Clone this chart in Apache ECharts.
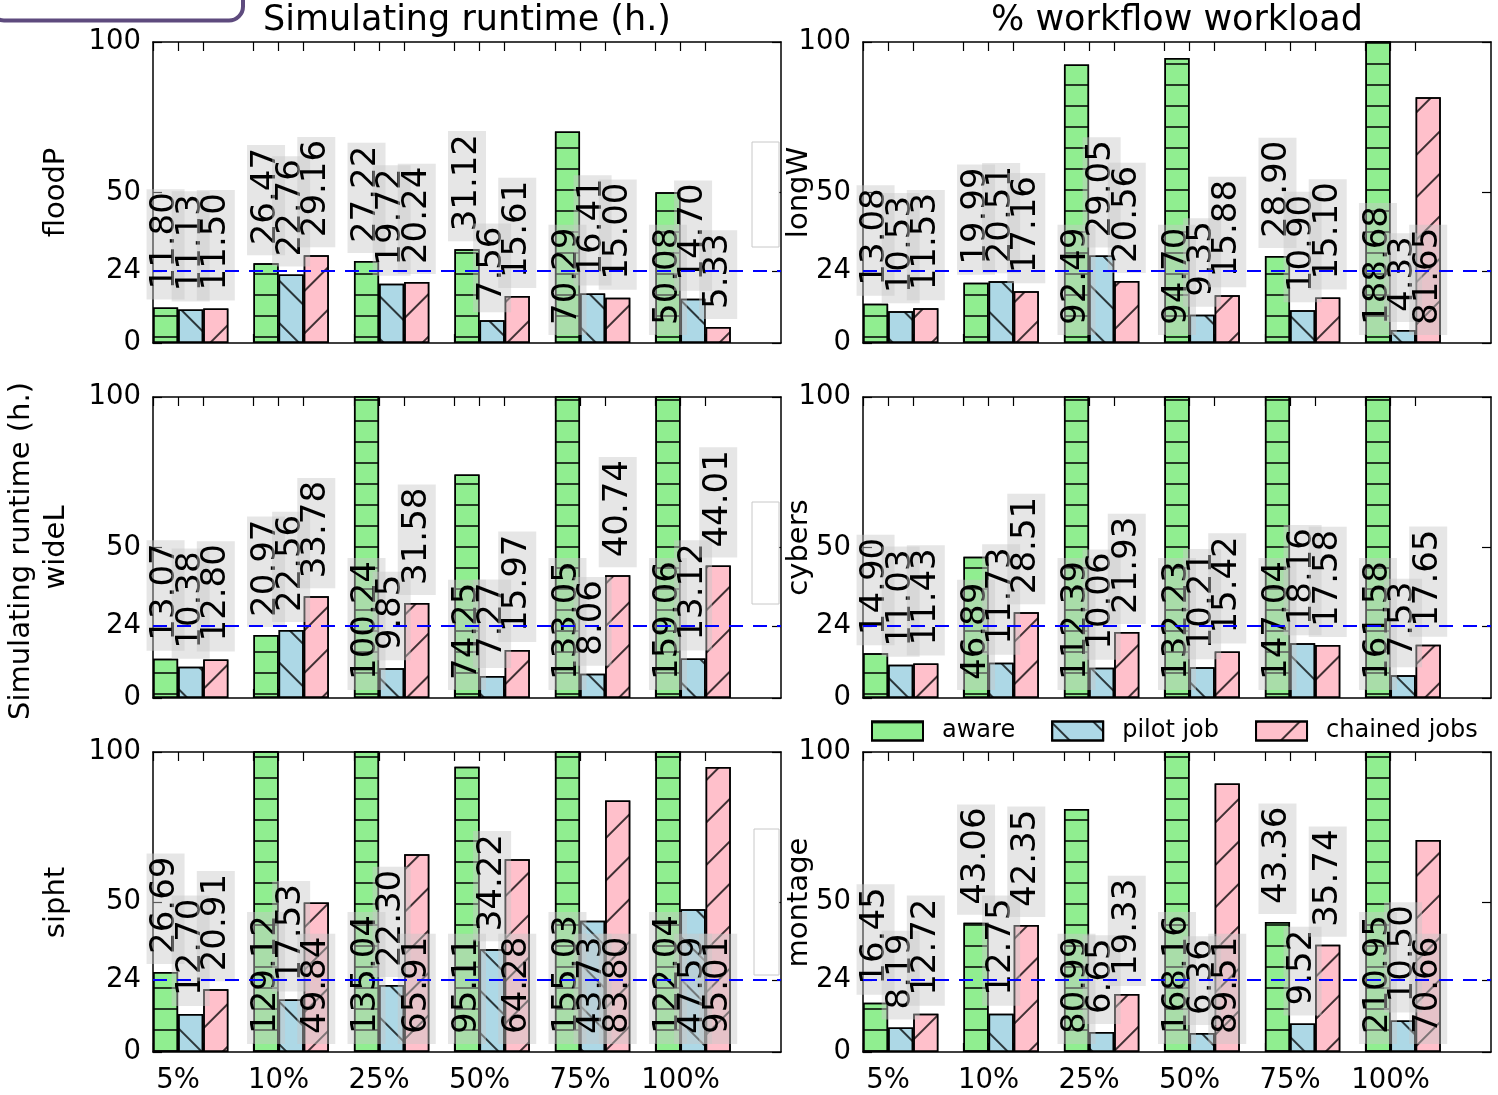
<!DOCTYPE html>
<html>
<head>
<meta charset="utf-8">
<title>Simulating runtime</title>
<script src="https://cdn.jsdelivr.net/npm/echarts@6/dist/echarts.min.js"></script>
<style>
  html, body { margin: 0; padding: 0; background: #fff; }
  #chart { width: 1498px; height: 1095px; }
</style>
</head>
<body>
<div id="chart"></div>
<script>
// workload levels on the x axis
var categories = ['5%', '10%', '25%', '50%', '75%', '100%'];
var seriesNames = ['aware', 'pilot job', 'chained jobs'];
var yTicks = [0, 24, 50, 100];
var deadline = 24;

// panels, row by row (left column, right column)
var panelNames = ['floodP', 'longW', 'wideL', 'cybers', 'sipht', 'montage'];

var floodP_aware   = [11.80, 26.47, 27.22, 31.12, 70.29, 50.08];
var floodP_pilot   = [11.13, 22.76, 19.72, 7.56, 16.41, 14.70];
var floodP_chained = [11.50, 29.16, 20.24, 15.61, 15.00, 5.33];

var longW_aware   = [13.08, 19.99, 92.49, 94.70, 28.90, 188.68];
var longW_pilot   = [10.53, 20.51, 29.05, 9.35, 10.90, 4.33];
var longW_chained = [11.53, 17.16, 20.56, 15.88, 15.10, 81.65];

var wideL_aware   = [13.07, 20.97, 100.24, 74.25, 133.05, 159.06];
var wideL_pilot   = [10.38, 22.56, 9.85, 7.27, 8.06, 13.12];
var wideL_chained = [12.80, 33.78, 31.58, 15.97, 40.74, 44.01];

var cybers_aware   = [14.90, 46.89, 112.39, 132.23, 147.04, 161.58];
var cybers_pilot   = [11.03, 11.73, 10.06, 10.21, 18.16, 7.53];
var cybers_chained = [11.43, 28.51, 21.93, 15.42, 17.58, 17.65];

var sipht_aware   = [26.69, 129.12, 135.04, 95.11, 155.03, 122.04];
var sipht_pilot   = [12.70, 17.53, 22.30, 34.22, 43.73, 47.59];
var sipht_chained = [20.91, 49.84, 65.91, 64.28, 83.80, 95.01];

var montage_aware   = [16.45, 43.06, 80.99, 168.16, 43.36, 210.95];
var montage_pilot   = [8.19, 12.75, 6.65, 6.36, 9.52, 10.50];
var montage_chained = [12.72, 42.35, 19.33, 89.51, 35.74, 70.66];

var panelData = [
  [floodP_aware, floodP_pilot, floodP_chained],
  [longW_aware, longW_pilot, longW_chained],
  [wideL_aware, wideL_pilot, wideL_chained],
  [cybers_aware, cybers_pilot, cybers_chained],
  [sipht_aware, sipht_pilot, sipht_chained],
  [montage_aware, montage_pilot, montage_chained]
];

var FONT = 'DejaVu Sans';
var gridLeft = [153, 863];
var gridTop = [42, 397, 752];
var gridW = 628, gridH = 301;
var xMax = 6.25;              // axis runs a bit past the last group
var barUnit = 0.25;           // bar width in x units
var barPx = gridW / xMax * barUnit;

var colors = ['#90EE90', '#ADD8E6', '#FFC0CB'];
var hatch = 'rgba(0,0,0,0.75)';
var decals = [
  { symbol: 'rect', symbolSize: 1, dashArrayX: [1, 0], dashArrayY: [2, 19], rotation: 0, color: hatch },
  { symbol: 'rect', symbolSize: 1, dashArrayX: [1, 0], dashArrayY: [2, 28], rotation: Math.PI / 4, color: hatch },
  { symbol: 'rect', symbolSize: 1, dashArrayX: [1, 0], dashArrayY: [2, 28], rotation: -Math.PI / 4, color: hatch }
];

var xTickValues = [];
var xLabelValues = [];
categories.forEach(function (c, i) {
  xTickValues.push(i, i + barUnit, i + 2 * barUnit);
  xLabelValues.push(i + barUnit);
});

var grids = [], xAxes = [], yAxes = [], series = [];

panelNames.forEach(function (name, p) {
  var row = Math.floor(p / 2), col = p % 2;
  grids.push({ left: gridLeft[col], top: gridTop[row], width: gridW, height: gridH });

  ['bottom', 'top'].forEach(function (pos) {
    xAxes.push({
      type: 'value', gridIndex: p, position: pos, min: 0, max: xMax,
      axisLine: { show: true, onZero: false, lineStyle: { color: '#000', width: 1.5 } },
      axisTick: { show: true, inside: true, length: 9, customValues: xTickValues, lineStyle: { color: '#000', width: 1.2 } },
      axisLabel: {
        show: pos === 'bottom' && row === 2, customValues: xLabelValues, margin: 15,
        fontSize: 27.5, fontFamily: FONT, color: '#000',
        formatter: function (v) { return categories[Math.round(v - barUnit)]; }
      },
      splitLine: { show: false }
    });
  });
  ['left', 'right'].forEach(function (pos) {
    yAxes.push({
      type: 'value', gridIndex: p, position: pos, min: 0, max: 100,
      axisLine: { show: true, onZero: false, lineStyle: { color: '#000', width: 1.5 } },
      axisTick: { show: true, inside: true, length: 9, customValues: yTicks, lineStyle: { color: '#000', width: 1.2 } },
      axisLabel: { show: pos === 'left', customValues: yTicks, margin: 12, fontSize: 27.5, fontFamily: FONT, color: '#000' },
      splitLine: { show: false }
    });
  });

  // tall bars carry their value label near the base instead of on top
  var panelMax = Math.max.apply(null, [].concat.apply([], panelData[p]));
  var baseLabelFrom = Math.max(0.28 * panelMax, 40);

  panelData[p].forEach(function (vals, k) {
    var s = {
      type: 'bar', name: seriesNames[k],
      xAxisIndex: 2 * p, yAxisIndex: 2 * p,
      barWidth: barPx, barGap: '0%',
      itemStyle: { color: colors[k], borderColor: '#000', borderWidth: 1.5, decal: decals[k] },
      label: {
        show: true, rotate: 90, align: 'left', verticalAlign: 'middle', distance: 8,
        fontSize: 34, fontFamily: FONT, color: '#000', lineHeight: 30,
        backgroundColor: 'rgba(200,200,200,0.45)', padding: [0, 3, 8, 10],
        formatter: function (prm) { return prm.value[1].toFixed(2); }
      },
      emphasis: { disabled: true },
      data: vals.map(function (v, i) {
        return { value: [i + 1.5 * barUnit, v], label: { position: v > baseLabelFrom ? 'insideBottom' : 'top' } };
      })
    };
    if (k === 0) {
      s.markLine = {
        silent: true, symbol: 'none', label: { show: false },
        lineStyle: { color: '#0000ff', type: [14, 10], width: 1.8 },
        data: [{ yAxis: deadline }]
      };
    }
    series.push(s);
  });
});

function vtext(txt, x, y, size) {
  return {
    type: 'text', x: x, y: y, rotation: Math.PI / 2, z: 10,
    style: { text: txt, fontSize: size, fontFamily: FONT, fill: '#000', align: 'center', verticalAlign: 'middle' }
  };
}
function htext(txt, x, y, size) {
  return {
    type: 'text', x: x, y: y, z: 10,
    style: { text: txt, fontSize: size, fontFamily: FONT, fill: '#000', align: 'center', verticalAlign: 'middle' }
  };
}

var graphics = [
  // corner of a framed box at the top-left
  { type: 'rect', shape: { x: -10, y: -40, width: 253, height: 60.5, r: 14 }, style: { fill: 'none', stroke: '#5e4b7e', lineWidth: 4 }, z: 20 },
  htext('Simulating runtime (h.)', 467, 21, 35),
  htext('% workflow workload', 1177, 21, 35),
  vtext('Simulating runtime (h.)', 21, 551, 29),
  // stray white boxes next to the right-hand panel names
  { type: 'rect', shape: { x: 752, y: 142, width: 27, height: 105 }, style: { fill: '#fff', stroke: '#c8c8c8', lineWidth: 1 }, z: 5 },
  { type: 'rect', shape: { x: 752, y: 502, width: 27, height: 102 }, style: { fill: '#fff', stroke: '#c8c8c8', lineWidth: 1 }, z: 5 },
  { type: 'rect', shape: { x: 754, y: 829, width: 25, height: 146 }, style: { fill: '#fff', stroke: '#c8c8c8', lineWidth: 1 }, z: 5 }
];
panelNames.forEach(function (name, p) {
  var row = Math.floor(p / 2), col = p % 2;
  var cy = gridTop[row] + gridH / 2;
  graphics.push(vtext(name, col === 0 ? 56 : 799, cy, 29));
});

var chart = echarts.init(document.getElementById('chart'));
chart.setOption({
  animation: false,
  backgroundColor: '#fff',
  textStyle: { fontFamily: FONT },
  legend: {
    data: seriesNames, left: 871, top: 719, icon: 'rect', padding: 0,
    itemWidth: 51, itemHeight: 19, itemGap: 36, selectedMode: false,
    textStyle: { fontSize: 24, fontFamily: FONT, color: '#000', padding: [0, 0, 0, 14] }
  },
  grid: grids,
  xAxis: xAxes,
  yAxis: yAxes,
  series: series,
  graphic: graphics
});
</script>
</body>
</html>
